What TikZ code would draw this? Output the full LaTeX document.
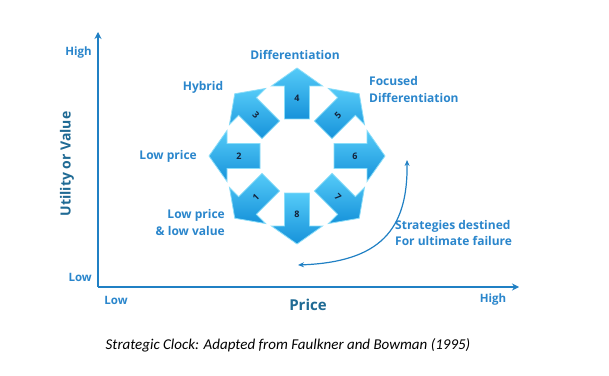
\documentclass[tikz,border=0pt]{standalone}
\usepackage{fontspec}
\setmainfont{Open Sans}
\newfontfamily\capfont{Carlito}
\usetikzlibrary{arrows.meta,calc}
\definecolor{axisblue}{HTML}{2080C4}
\definecolor{labblue}{HTML}{2A86CC}
\definecolor{priceblue}{HTML}{1F6A94}
\definecolor{arrtop}{HTML}{55CBF8}
\definecolor{arrbot}{HTML}{1692DA}
\definecolor{arredge}{HTML}{8ADDF9}
\definecolor{numcol}{HTML}{14233A}
\tikzset{
  lab/.style={font=\bfseries\fontsize{12}{17}\selectfont, text=labblue, inner sep=0pt},
  axlab/.style={font=\bfseries\fontsize{11.5}{14}\selectfont, text=labblue, inner sep=0pt},
  numlab/.style={font=\bfseries\fontsize{9}{10}\selectfont, text=numcol, inner sep=0pt},
  axisline/.style={draw=axisblue, line width=1.6pt, -{Stealth[length=7pt,width=7pt]}},
  failarrow/.style={draw=axisblue, line width=1.2pt, {Stealth[length=6pt,width=5pt]}-{Stealth[length=6pt,width=5pt]}},
  clockarrow/.style={top color=arrtop, bottom color=arrbot, draw=arredge, line width=0.8pt},
}
\begin{document}
\begin{tikzpicture}[x=1pt,y=1pt]
\useasboundingbox (0,0) rectangle (609,375);
\fill[white] (0,0) rectangle (609,375);
% axes
\coordinate (O) at (98,88);
\coordinate (ytip) at (98,343);
\coordinate (xtip) at (519,88);
\draw[axisline] (O) -- (ytip);
\draw[axisline] (O) -- (xtip);
\node[axlab, anchor=east] (yhigh) at (92,322) {High};
\node[axlab, anchor=east] (ylow) at (92,98) {Low};
\node[font=\bfseries\fontsize{14}{16}\selectfont, text=priceblue, rotate=90, inner sep=0pt] (ytitle) at (67,211) {Utility or Value};
\node[axlab] (xlow) at (116,75) {Low};
\node[axlab] (xhigh) at (493,75) {High};
\node[font=\bfseries\fontsize{15}{17}\selectfont, text=priceblue, inner sep=0pt] (xtitle) at (308,70) {Price};
% clock
\coordinate (C) at (297,219);
\foreach \a/\n/\r in {90/4/0, 135/3/-45, 180/2/0, 225/1/45, 270/8/0, 315/7/-45, 0/6/0, 45/5/45}{
  \begin{scope}[shift={(C)}, rotate=\a]
    \shade[clockarrow] (37,-12.5) -- (70,-12.5) -- (70,-25.5) -- (88,0) -- (70,25.5) -- (70,12.5) -- (37,12.5) -- cycle;
  \end{scope}
  \node[numlab, rotate=\r] (n\n) at ($(C)+(\a:58)$) {\n};
}
% labels
\node[lab] (diff) at (295,320) {Differentiation};
\node[lab] (hyb) at (203,288) {Hybrid};
\node[lab, anchor=west, align=left] (focus) at (369,285.5) {Focused\\Differentiation};
\node[lab, anchor=east] (lowp) at (197,219) {Low price};
\node[lab, anchor=east, align=right] (lowv) at (225,152.5) {Low price\\\& low value};
\node[lab, anchor=west, align=left, font=\bfseries\fontsize{12}{16}\selectfont] (strat) at (395,142) {Strategies destined\\For ultimate failure};
% failure arrow
\coordinate (f1) at (407,215);
\coordinate (f2) at (298,110);
\draw[failarrow] (f2) .. controls (380,113) and (408,145) .. (f1);
% caption
\node[font=\capfont\itshape\fontsize{15}{17}\selectfont, text=black, inner sep=0pt] (cap) at (288,30) {Strategic Clock: Adapted from Faulkner and Bowman (1995)};
\end{tikzpicture}
\end{document}
